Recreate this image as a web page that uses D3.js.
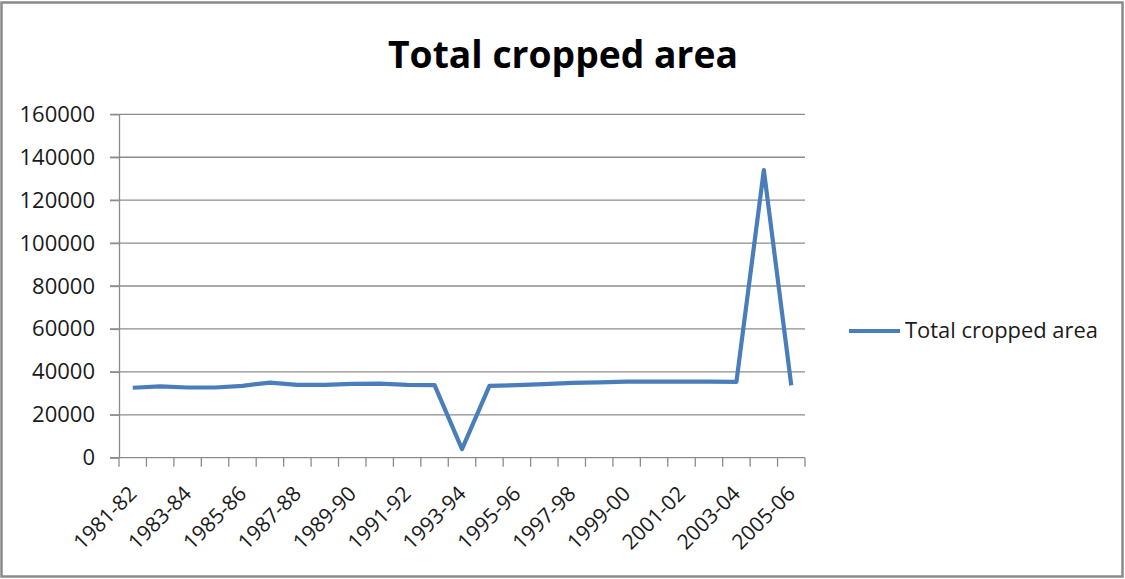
<!DOCTYPE html>
<html>
<head>
<meta charset="utf-8">
<script src="https://cdn.jsdelivr.net/npm/d3@7"></script>
<style>
	body {margin: 0; background: #fff}
	svg {display: block; font-family: "Open Sans", sans-serif}
</style>
</head>
<body>
<svg width="1125" height="579"></svg>
<script>
'use strict';
// data
let aYears = ["1981-82", "1982-83", "1983-84", "1984-85", "1985-86", "1986-87", "1987-88",
	"1988-89", "1989-90", "1990-91", "1991-92", "1992-93", "1993-94", "1994-95", "1995-96",
	"1996-97", "1997-98", "1998-99", "1999-00", "2000-01", "2001-02", "2002-03", "2003-04",
	"2004-05", "2005-06"]
let aArea = [32600, 33200, 32700, 32700, 33500, 35000, 33900, 33900, 34400, 34500, 33900,
	33800, 4000, 33500, 33800, 34300, 34900, 35100, 35400, 35400, 35400, 35400, 35300,
	134000, 33700]
let aYTicks = [0, 20000, 40000, 60000, 80000, 100000, 120000, 140000, 160000]
let sSeries = "Total cropped area"

let eSvg = d3.select("svg"),
	dWidth = +eSvg.attr("width"),
	dHeight = +eSvg.attr("height")

let dLeft = 119, dRight = 805, dTop = 114.3, dBottom = 457.7
let cGrid = "#8c8c8c", cText = "#1a1a1a", cLine = "#4a7ebb"

// outer frame
eSvg.append("rect")
	.attr("x", 1.5).attr("y", 2.5)
	.attr("width", dWidth - 4).attr("height", dHeight - 5)
	.attr("fill", "none").attr("stroke", "#8a8a8a").attr("stroke-width", 2.5)

let x = d3.scaleBand().domain(aYears).range([dLeft, dRight])
let y = d3.scaleLinear().domain([0, 160000]).range([dBottom, dTop])

// gridlines
eSvg.append("g").selectAll("line")
	.data(aYTicks.slice(1))
	.enter().append("line")
	.attr("x1", dLeft - 9).attr("x2", dRight)
	.attr("y1", d => y(d)).attr("y2", d => y(d))
	.attr("stroke", cGrid).attr("stroke-width", 1.3)

// y axis
let gY = eSvg.append("g")
	.attr("transform", `translate(${dLeft},0)`)
	.call(d3.axisLeft(y).tickValues(aYTicks).tickSize(9).tickPadding(15).tickSizeOuter(0)
		.tickFormat(d3.format("d")))
gY.select(".domain").attr("stroke", cGrid).attr("stroke-width", 1.3)
gY.selectAll(".tick line").attr("stroke", cGrid).attr("stroke-width", 1.3)
gY.selectAll(".tick text").attr("fill", cText).style("font-size", "22px")
	.style("font-family", "'Open Sans', sans-serif")

// x axis: baseline, ticks between categories, every other label
let gX = eSvg.append("g")
gX.append("line")
	.attr("x1", dLeft - 9).attr("x2", dRight)
	.attr("y1", dBottom).attr("y2", dBottom)
	.attr("stroke", cGrid).attr("stroke-width", 1.3)
gX.selectAll("line.tk")
	.data(aYears.map(a => x(a)).concat([dRight]))
	.enter().append("line").attr("class", "tk")
	.attr("x1", d => d).attr("x2", d => d)
	.attr("y1", dBottom).attr("y2", dBottom + 9)
	.attr("stroke", cGrid).attr("stroke-width", 1.3)
gX.selectAll("text")
	.data(aYears.filter((a, i) => i % 2 === 0))
	.enter().append("text")
	.attr("transform", d => `translate(${x(d) + x.bandwidth() / 2},${dBottom + 32}) rotate(-45)`)
	.attr("text-anchor", "end")
	.attr("dy", "0.35em")
	.attr("fill", cText)
	.style("font-size", "21px")
	.text(d => d)

// series line
let line = d3.line()
	.x((d, i) => x(aYears[i]) + x.bandwidth() / 2)
	.y(d => y(d))
eSvg.append("path")
	.datum(aArea)
	.attr("d", line)
	.attr("fill", "none")
	.attr("stroke", cLine)
	.attr("stroke-width", 4.2)
	.attr("stroke-linejoin", "round")

// title
eSvg.append("text")
	.attr("x", 563).attr("y", 68)
	.attr("text-anchor", "middle")
	.attr("fill", "#000")
	.style("font-size", "38px").style("font-weight", "bold")
	.attr("textLength", 350).attr("lengthAdjust", "spacingAndGlyphs")
	.text(sSeries)

// legend
let gLeg = eSvg.append("g")
gLeg.append("line")
	.attr("x1", 849).attr("x2", 900)
	.attr("y1", 331).attr("y2", 331)
	.attr("stroke", cLine).attr("stroke-width", 4.2)
gLeg.append("text")
	.attr("x", 905).attr("y", 331)
	.attr("dy", "0.35em")
	.attr("fill", cText)
	.style("font-size", "21px")
	.attr("textLength", 193).attr("lengthAdjust", "spacingAndGlyphs")
	.text(sSeries)
</script>
</body>
</html>
